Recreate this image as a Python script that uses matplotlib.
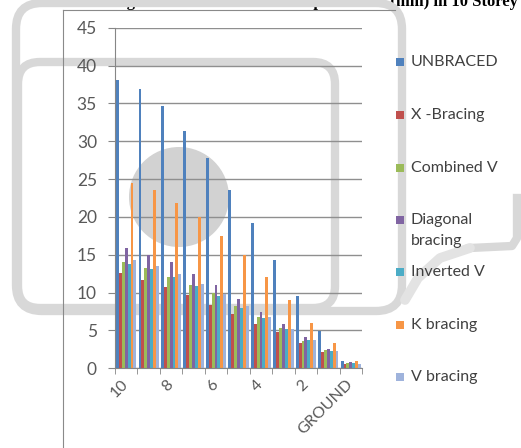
import matplotlib
matplotlib.use('Agg')
import matplotlib.pyplot as plt
from matplotlib.patches import FancyBboxPatch, Circle, Rectangle
import numpy as np

plt.rcParams['font.family'] = ['Lato', 'DejaVu Sans']

# maximum lateral displacement (mm) per floor level
floors = ['10', '9', '8', '7', '6', '5', '4', '3', '2', '1', 'GROUND']
unbraced   = [38.1, 36.9, 34.6, 31.4, 27.8, 23.6, 19.2, 14.3, 9.6, 4.9, 0.9]
x_bracing  = [12.6, 11.7, 10.8, 9.7, 8.4, 7.2, 5.9, 4.8, 3.3, 2.2, 0.6]
combined_v = [14.0, 13.2, 12.1, 11.0, 10.0, 8.2, 6.8, 5.3, 3.6, 2.4, 0.7]
diagonal   = [15.9, 15.0, 14.0, 12.5, 11.0, 9.2, 7.5, 5.8, 4.1, 2.6, 0.8]
inverted_v = [13.8, 13.1, 12.0, 10.9, 9.5, 8.0, 6.6, 5.2, 3.7, 2.3, 0.7]
k_bracing  = [24.5, 23.5, 21.9, 20.0, 17.5, 15.0, 12.0, 9.0, 6.0, 3.3, 0.9]
v_bracing  = [14.3, 13.5, 12.5, 11.2, 9.8, 8.2, 6.8, 5.2, 3.8, 2.3, 0.6]

series = [unbraced, x_bracing, combined_v, diagonal, inverted_v, k_bracing, v_bracing]
names = ['UNBRACED', 'X -Bracing', 'Combined V', 'Diagonal\nbracing',
         'Inverted V', 'K bracing', 'V bracing']
colors = ['#4f81bd', '#c0504d', '#9bbb59', '#8064a2', '#4bacc6', '#f79646', '#9fb3dc']

W, H = 521, 448
fig = plt.figure(figsize=(W / 100, H / 100), dpi=100)

# page layer in pixel units: caption, watermark, chart frame, legend
bg = fig.add_axes([0, 0, 1, 1], zorder=0)
bg.set_xlim(0, W)
bg.set_ylim(H, 0)
bg.axis('off')

bg.text(112, 6, 'Fig. 9 Maximum Lateral Displacement (mm) in 10 Storey Building',
        family='Liberation Serif', fontweight='bold', fontsize=12,
        ha='left', va='baseline', zorder=1)

wm = '#d8d8d8'
for x0, y0, x1, y1, r in [(16, 3, 402, 311, 26), (18, 62, 335, 308, 22)]:
    bg.add_patch(FancyBboxPatch((x0, y0), x1 - x0, y1 - y0,
                                boxstyle=f'round,pad=0,rounding_size={r}',
                                fill=False, ec=wm, lw=6, zorder=2))
bg.plot([517, 517, 512, 470], [198, 238, 246, 248], color=wm, lw=6,
        solid_joinstyle='round', zorder=2)
bg.plot([470, 440, 418, 405], [248, 258, 278, 300], color='#e3e3e3', lw=7,
        solid_capstyle='round', zorder=2)
bg.add_patch(Circle((179, 197), 50, color='#d2d2d2', lw=0, zorder=2))

bg.plot([63, 63], [10, 448], color='#8a8a8a', lw=0.8, zorder=3)
bg.plot([63, 395], [10, 10], color='#8a8a8a', lw=0.8, zorder=3)

# legend
leg_y = [62, 115, 168, 220, 272, 325, 377]
for name, c, y in zip(names, colors, leg_y):
    bg.add_patch(Rectangle((396, y - 4), 8, 8, color=c, lw=0, zorder=3))
    for k, line in enumerate(name.split('\n')):
        bg.text(411, y + 21 * k, line, fontsize=11.5, color='#404040',
                ha='left', va='center', zorder=3)

# chart
ax = fig.add_axes([115 / W, 1 - 368.3 / H, (362 - 115) / W, (368.3 - 27.7) / H], zorder=1)
ax.patch.set_alpha(0)

x = np.arange(len(floors))
width = 0.9 / len(series)
for j, (vals, c) in enumerate(zip(series, colors)):
    ax.bar(x + (j - 3) * width, vals, width, color=c, lw=0, zorder=2)

ax.set_xlim(-0.5, len(floors) - 0.5)
ax.set_ylim(0, 45)
ax.set_yticks(range(0, 46, 5))
ax.yaxis.grid(True, color='#8f8f8f', lw=1.0)
ax.set_axisbelow(True)

for s in ['top', 'right']:
    ax.spines[s].set_visible(False)
for s in ['left', 'bottom']:
    ax.spines[s].set_color('#868686')

ax.tick_params(axis='y', length=5, color='#868686', pad=8,
               labelsize=12.5, labelcolor='#595959')
ax.set_xticks(x[::2])
ax.set_xticklabels(floors[::2], rotation=45, ha='right', va='center',
                   rotation_mode='anchor')
ax.set_xticks(np.arange(-0.5, len(floors), 1), minor=True)
ax.tick_params(axis='x', which='major', length=0, pad=10,
               labelsize=11.5, labelcolor='#595959')
ax.tick_params(axis='x', which='minor', length=4, color='#868686')

fig.savefig('out.png', dpi=100)
